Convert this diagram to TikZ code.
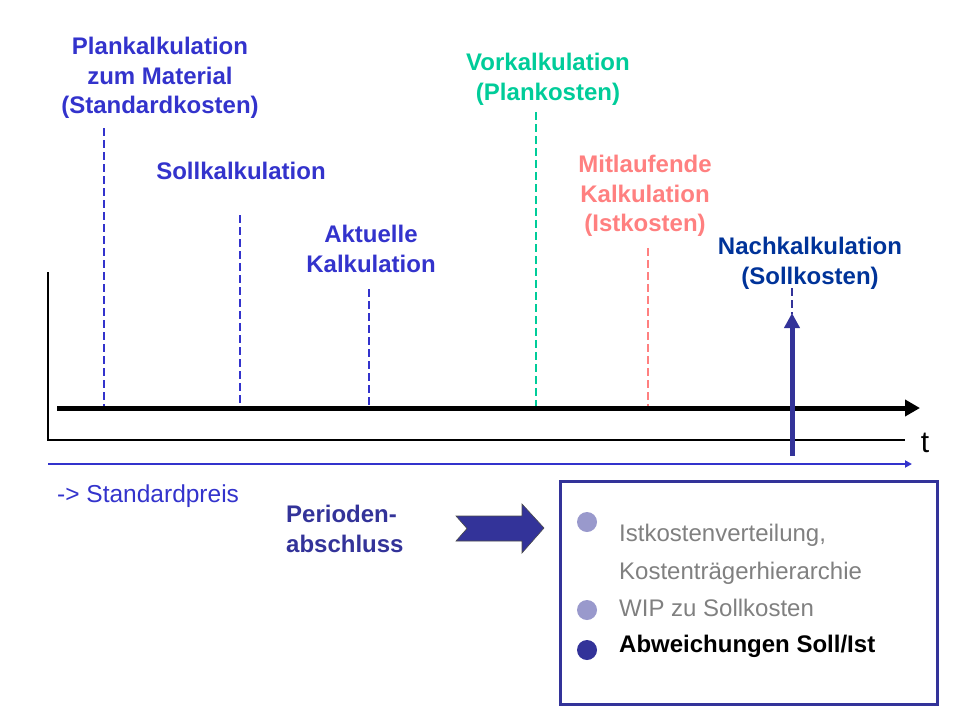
\documentclass[tikz,border=0pt]{standalone}
\usepackage{fontspec}
\setmainfont{Liberation Sans}
\usetikzlibrary{arrows.meta}
\definecolor{lblue}{HTML}{3333CC}
\definecolor{navy}{HTML}{333399}
\definecolor{nach}{HTML}{003399}
\definecolor{vgreen}{HTML}{00CC99}
\definecolor{mpink}{HTML}{FF8080}
\definecolor{lbul}{HTML}{9999CC}
\definecolor{gtext}{HTML}{808080}
\tikzset{
  lbl/.style={font=\fontsize{24}{29.5}\selectfont\bfseries, align=center, inner sep=0pt, anchor=north},
  itemtxt/.style={font=\fontsize{24}{29}\selectfont, inner sep=0pt, anchor=base west},
  dashline/.style={line width=2pt, dash pattern=on 8pt off 4pt},
  bullet/.style={circle, inner sep=0pt, minimum size=20pt},
}
\begin{document}
\begin{tikzpicture}[x=1pt,y=-1pt]
\useasboundingbox (0,0) rectangle (960,720);
% axes
\coordinate (ytop) at (48,272);
\coordinate (orig) at (48,440);
\coordinate (xend) at (905,440);
\draw[line width=1.5pt] (ytop) -- (orig) -- (xend);
\coordinate (tstart) at (57,408);
\coordinate (tend) at (920,408);
\draw[line width=5pt, -{Triangle[length=15pt,width=16pt]}] (tstart) -- (tend);
\coordinate (bstart) at (48,464);
\coordinate (bend) at (912,464);
\draw[lblue, line width=2pt, -{Triangle[length=7pt,width=7pt]}] (bstart) -- (bend);
\node[font=\fontsize{30}{30}\selectfont, inner sep=0pt, anchor=base] (t) at (925,452) {t};
\node[font=\fontsize{24.5}{29}\selectfont, text=lblue, inner sep=0pt, anchor=base west] (std) at (57,502) {-> Standardpreis};
% labels
\node[lbl, text=lblue] (plan) at (160,37) {Plankalkulation\\zum Material\\(Standardkosten)};
\node[lbl, text=lblue] (soll) at (241,162) {Sollkalkulation};
\node[lbl, text=lblue] (akt) at (371,225) {Aktuelle\\Kalkulation};
\node[lbl, text=vgreen] (vor) at (548,53) {Vorkalkulation\\(Plankosten)};
\node[lbl, text=mpink] (mit) at (645,155) {Mitlaufende\\Kalkulation\\(Istkosten)};
\node[lbl, text=nach] (nach) at (810,237) {Nachkalkulation\\(Sollkosten)};
% dashed lines
\coordinate (d1a) at (104,128); \coordinate (d1b) at (104,406);
\coordinate (d2a) at (240,215); \coordinate (d2b) at (240,406);
\coordinate (d3a) at (369,289); \coordinate (d3b) at (369,406);
\coordinate (d4a) at (536,112); \coordinate (d4b) at (536,406);
\coordinate (d5a) at (648,248); \coordinate (d5b) at (648,406);
\coordinate (d6a) at (792,288); \coordinate (d6b) at (792,314);
\draw[dashline, lblue] (d1a) -- (d1b);
\draw[dashline, lblue] (d2a) -- (d2b);
\draw[dashline, lblue] (d3a) -- (d3b);
\draw[dashline, vgreen] (d4a) -- (d4b);
\draw[dashline, mpink] (d5a) -- (d5b);
\draw[dashline, navy] (d6a) -- (d6b);
% vertical arrow
\coordinate (va) at (792,456);
\coordinate (vb) at (792,313);
\draw[navy, line width=5pt, -{Triangle[length=15pt,width=15pt]}] (va) -- (vb);
% Periodenabschluss
\node[font=\fontsize{24}{29.5}\selectfont\bfseries, text=navy, align=left, inner sep=0pt, anchor=north west] (per) at (286,505) {Perioden-\\abschluss};
% block arrow
\fill[navy, draw=black!70, line width=0.6pt] (456,516) -- (522,516) -- (522,504) -- (544,528) -- (522,553) -- (522,541) -- (456,541) -- (467,528.5) -- cycle;
% box
\draw[navy, line width=3pt] (560,481) rectangle (937,704);
\node[bullet, fill=lbul] (b1) at (587,522) {};
\node[bullet, fill=lbul] (b2) at (587,610) {};
\node[bullet, fill=navy] (b3) at (587,650) {};
\node[itemtxt, text=gtext] (i1) at (619,541) {Istkostenverteilung,};
\node[itemtxt, text=gtext] (i2) at (619,579) {Kostenträgerhierarchie};
\node[itemtxt, text=gtext] (i3) at (619,616) {WIP zu Sollkosten};
\node[itemtxt, font=\fontsize{24}{29}\selectfont\bfseries] (i4) at (619,652) {Abweichungen Soll/Ist};
\end{tikzpicture}
\end{document}
